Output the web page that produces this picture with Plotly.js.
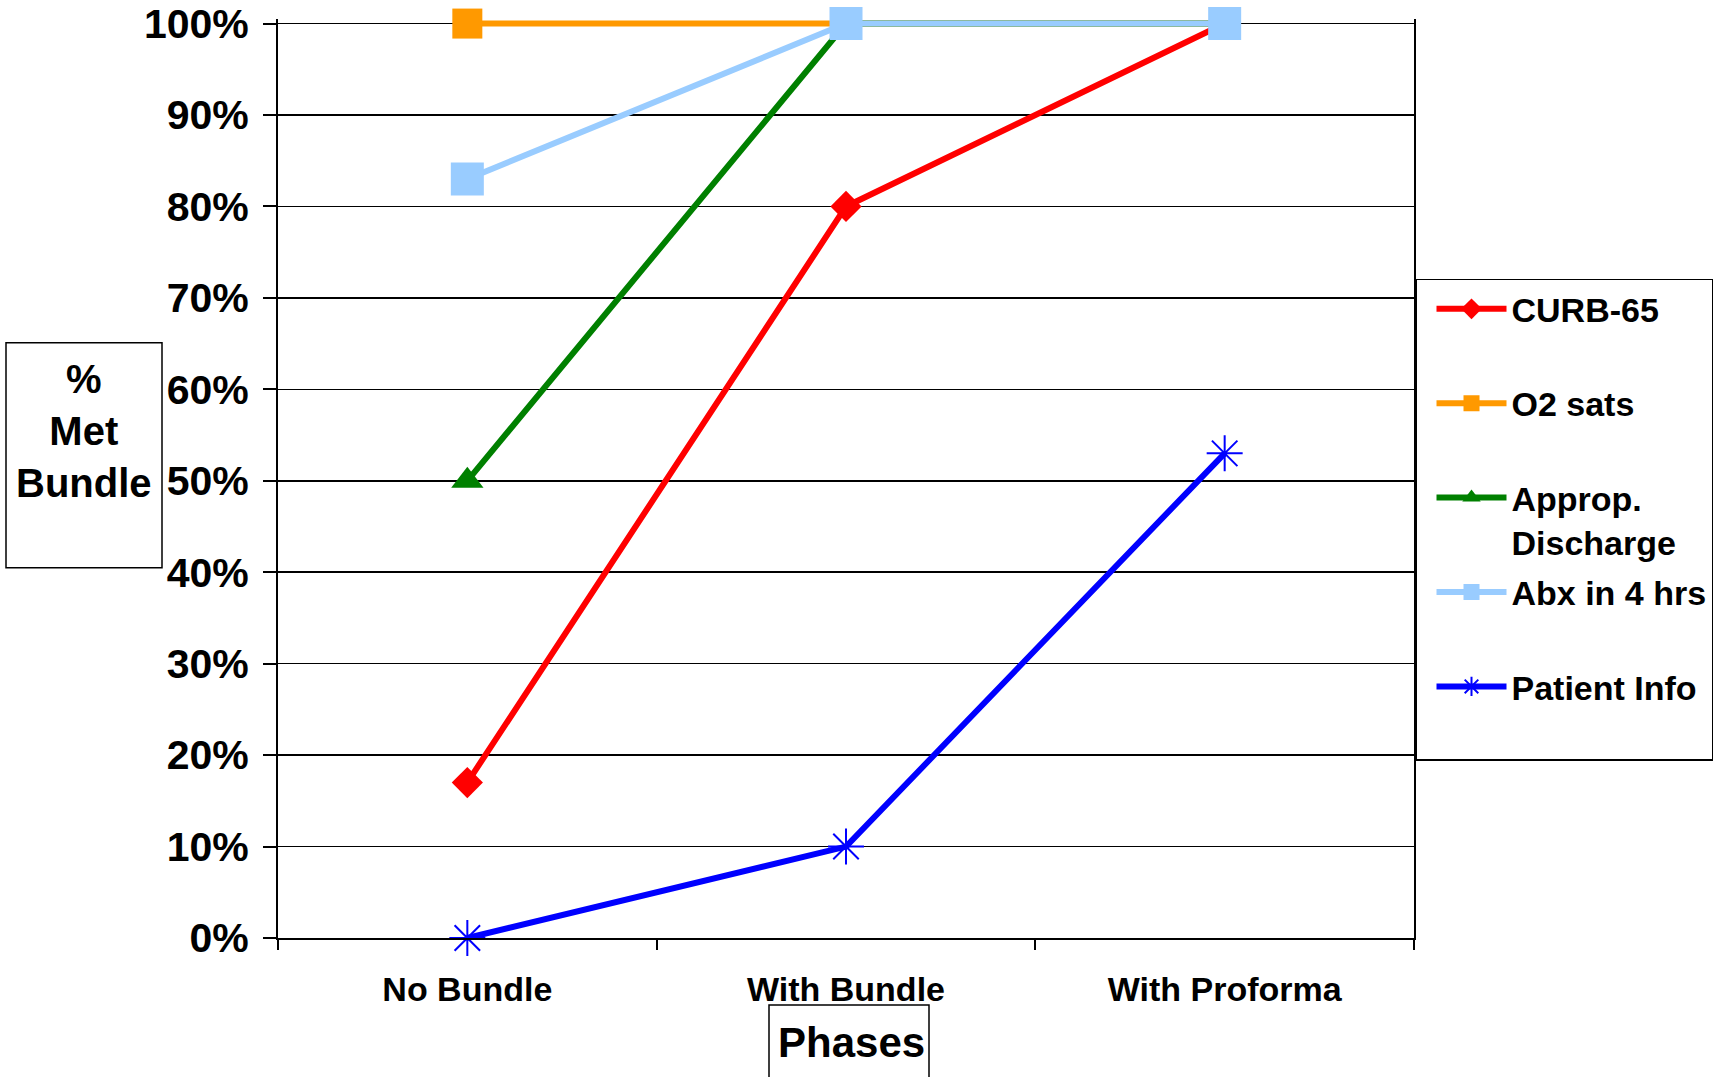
<!DOCTYPE html>
<html>
<head>
<meta charset="utf-8">
<script src="https://cdn.plot.ly/plotly-3.0.1.min.js"></script>
<style>
html,body{margin:0;padding:0;background:#fff;}
#chart{width:1722px;height:1077px;}
</style>
</head>
<body>
<div id="chart"></div>
<script>
// ---- Data ----
const categories = ['No Bundle', 'With Bundle', 'With Proforma'];
const curb65 = [17, 80, 100];
const o2Sats = [100, 100, 100];
const appropDischarge = [50, 100, 100];
const abxIn4Hrs = [83, 100, 100];
const patientInfo = [0, 10, 53];
const seriesNames = ['CURB-65', 'O2 sats', 'Approp.<br>Discharge', 'Abx in 4 hrs', 'Patient Info'];
const yTickValues = [0, 10, 20, 30, 40, 50, 60, 70, 80, 90, 100];
const yTickLabels = ['0%', '10%', '20%', '30%', '40%', '50%', '60%', '70%', '80%', '90%', '100%'];
const yTitleText = '%<br>Met<br>Bundle';
const xTitleText = 'Phases';

// ---- Layout geometry (pixels) ----
const W = 1722, H = 1077;
const yTop = 100.5;                 // small headroom so lines at 100% are not clipped
const plotL = 278, plotR = 1414, plotB = 938;
const y100 = 24;                    // pixel row of the 100% gridline
const plotT = plotB - (plotB - y100) * yTop / 100;
const px2x = p => (p - plotL) / (plotR - plotL);
const px2y = p => (plotB - p) / (plotB - plotT);

const FONT = '"Liberation Sans", Arial, sans-serif';

function legendName(n) {
  return n.indexOf('<br>') >= 0 ? n : n + '<br>&nbsp;';
}

const traces = [
  {y: curb65, name: seriesNames[0], color: '#FF0000', symbol: 'diamond', size: 24},
  {y: o2Sats, name: seriesNames[1], color: '#FF9900', symbol: 'square', size: 30},
  {y: appropDischarge, name: seriesNames[2], color: '#008000', symbol: 'triangle-up', size: 28},
  {y: abxIn4Hrs, name: seriesNames[3], color: '#99CCFF', symbol: 'square', size: 33},
  {y: patientInfo, name: seriesNames[4], color: '#0000FF', symbol: 'asterisk-open', size: 30}
].map((t, i) => ({
  type: 'scatter',
  mode: 'lines+markers',
  x: categories,
  y: t.y,
  name: legendName(t.name),
  legendgroup: 'g' + i,
  cliponaxis: false,
  line: {color: t.color, width: 6},
  marker: {
    color: t.color,
    symbol: t.symbol,
    size: t.size,
    line: {color: t.color, width: t.symbol === 'asterisk-open' ? 2 : 0}
  }
}));

const layout = {
  width: W, height: H,
  paper_bgcolor: '#ffffff',
  plot_bgcolor: '#ffffff',
  font: {family: FONT, color: '#000000'},
  margin: {l: plotL, r: W - plotR, t: plotT, b: H - plotB, pad: 0, autoexpand: false},
  showlegend: true,
  legend: {
    x: px2x(1415), xanchor: 'left',
    y: px2y(279), yanchor: 'top',
    bgcolor: '#ffffff',
    bordercolor: '#000000',
    borderwidth: 1.5,
    font: {family: FONT, size: 34, color: '#000000', weight: 'bold'},
    valign: 'top',
    itemwidth: 70,
    indentation: 15,
    tracegroupgap: 3,
    traceorder: 'grouped'
  },
  xaxis: {
    type: 'category',
    range: [-0.5, 2.5],
    tickson: 'boundaries',
    ticks: 'outside',
    ticklen: 10,
    tickwidth: 2,
    tickcolor: '#000000',
    showgrid: false,
    showline: true,
    linecolor: '#000000',
    linewidth: 2,
    zeroline: false,
    ticklabelstandoff: 20,
    tickfont: {family: FONT, size: 34, color: '#000000', weight: 'bold'},
    fixedrange: true
  },
  yaxis: {
    range: [0, yTop],
    tickmode: 'array',
    tickvals: yTickValues,
    ticktext: yTickLabels,
    ticks: 'outside',
    ticklen: 13,
    tickwidth: 2,
    tickcolor: '#000000',
    showgrid: true,
    gridcolor: '#000000',
    gridwidth: 1.5,
    showline: true,
    mirror: true,
    linecolor: '#000000',
    linewidth: 2,
    zeroline: false,
    ticklabelstandoff: 6,
    tickfont: {family: FONT, size: 41, color: '#000000', weight: 'bold'},
    fixedrange: true
  },
  shapes: [
    {type: 'rect', xref: 'paper', yref: 'paper',
     x0: px2x(6), x1: px2x(162), y0: px2y(343), y1: px2y(568),
     line: {color: '#000000', width: 1.5}, fillcolor: 'rgba(0,0,0,0)'},
    {type: 'rect', xref: 'paper', yref: 'paper',
     x0: px2x(769), x1: px2x(929), y0: px2y(1005), y1: px2y(1090),
     line: {color: '#000000', width: 1.5}, fillcolor: 'rgba(0,0,0,0)'}
  ],
  annotations: [
    {xref: 'paper', yref: 'paper', x: px2x(84), y: px2y(431),
     xanchor: 'center', yanchor: 'middle', showarrow: false,
     text: yTitleText, align: 'center',
     font: {family: FONT, size: 40, color: '#000000', weight: 'bold'}},
    {xref: 'paper', yref: 'paper', x: px2x(851), y: px2y(1042),
     xanchor: 'center', yanchor: 'middle', showarrow: false,
     text: xTitleText,
     font: {family: FONT, size: 42, color: '#000000', weight: 'bold'}}
  ]
};

Plotly.newPlot('chart', traces, layout, {displayModeBar: false, staticPlot: true});
</script>
</body>
</html>
